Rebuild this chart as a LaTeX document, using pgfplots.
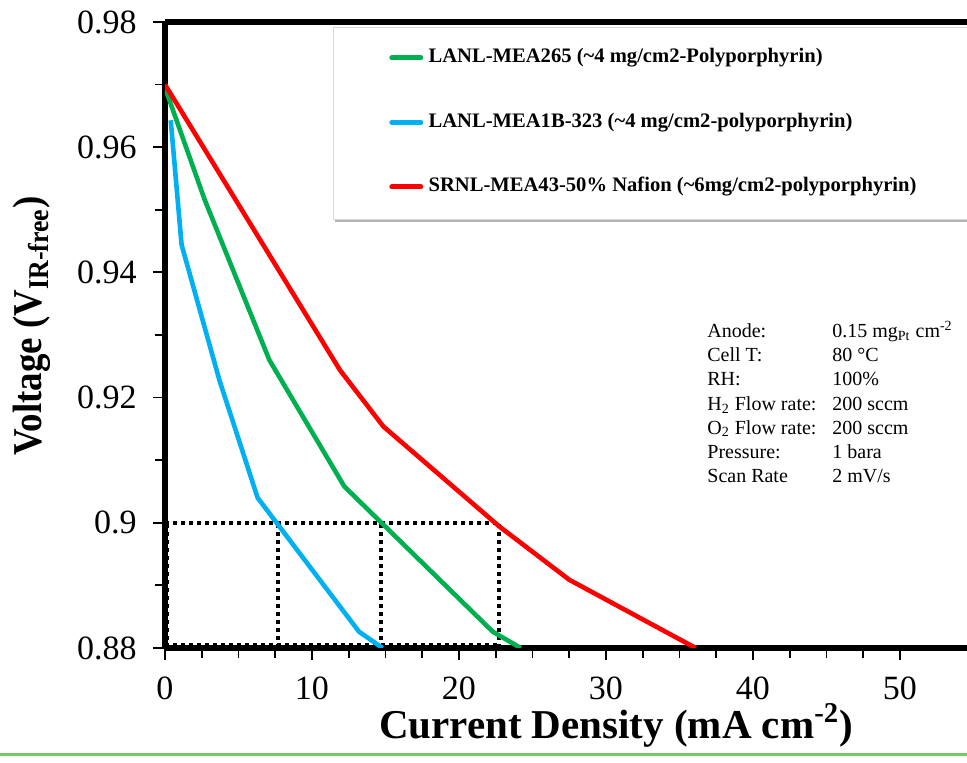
\documentclass[border=0pt]{standalone}
\usepackage{fontspec}
\setmainfont{Liberation Serif}
\usepackage{pgfplots}
\pgfplotsset{compat=1.18}
\usetikzlibrary{shadows}
\definecolor{cgreen}{RGB}{0,176,80}
\definecolor{cblue}{RGB}{0,176,240}
\definecolor{cred}{RGB}{255,0,0}
\definecolor{deco}{RGB}{120,200,100}
\begin{document}
\begin{tikzpicture}
\begin{axis}[
  scale only axis, width=401pt, height=313pt,
  xmin=0, xmax=54.56, ymin=0.88, ymax=0.98,
  axis x line*=box, axis y line*=left,
  axis line style={line width=3pt},
  x axis line style={line width=3pt},
  y axis line style={line width=3pt},
  every outer x axis line/.append style={line width=3pt},
  every outer y axis line/.append style={line width=3pt},
  xtick={0,10,20,30,40,50}, xticklabels={0,10,20,30,40,50}, minor x tick num=3,
  ytick={0.88,0.9,0.92,0.94,0.96,0.98}, yticklabels={0.88,0.9,0.92,0.94,0.96,0.98},
  minor y tick num=1,
  tick align=outside, xtick pos=left, ytick pos=left,
  major tick length=6pt, minor tick length=5pt,
  every tick/.style={black, line width=0.9pt},
  /pgf/number format/assume math mode=true,
  tick label style={font=\fontsize{17}{17}\selectfont},
  yticklabel style={anchor=east, inner sep=0pt, xshift=-8pt},
  xticklabel style={anchor=north, inner sep=0pt, yshift=-8pt},
  xlabel={Current Density (mA cm\textsuperscript{-2})},
  x label style={at={(rel axis cs:0.5623,-0.1438)}, anchor=base, inner sep=0pt, font=\bfseries\fontsize{20.5}{20.5}\selectfont},
  ylabel={\scalebox{0.9}[1]{Voltage (V\textsubscript{IR-free})}},
  y label style={at={(rel axis cs:-0.1534,0.5144)}, anchor=base, inner sep=0pt, font=\bfseries\fontsize{20.5}{20.5}\selectfont},
  legend style={at={(rel axis cs:0.2768,0.9585)}, anchor=north west, draw=none, fill=none,
    inner sep=0pt, outer sep=0pt, row sep=22.25pt,
    font=\bfseries\fontsize{10.3}{12}\selectfont,
    nodes={inner sep=0pt, text height=7.5pt, text depth=2.5pt}},
  legend cell align=left,
  legend image code/.code={\path (0pt,0pt) (18.5pt,0pt); \draw[#1, line width=2.5pt, line cap=round] (1.25pt,0pt) -- (15.75pt,0pt);},
]
\draw[draw=gray!30, fill=white, drop shadow={shadow xshift=1.2pt, shadow yshift=-1.6pt, fill=black, opacity=0.3}]
  (rel axis cs:0.2095,0.6853) rectangle (rel axis cs:1.05,0.992);

\addplot[black, line width=2pt, dash pattern=on 1.8pt off 2.2pt, forget plot] coordinates {(0,0.9) (22.75,0.9)};
\addplot[black, line width=1.3pt, dash pattern=on 1.8pt off 2.2pt, forget plot] coordinates {(0,0.8806) (22.75,0.8806)};
\addplot[black, line width=2pt, dash pattern=on 1.8pt off 2.2pt, forget plot] coordinates {(7.7,0.88) (7.7,0.9)};
\addplot[black, line width=2pt, dash pattern=on 1.8pt off 2.2pt, forget plot] coordinates {(14.7,0.88) (14.7,0.9)};
\addplot[black, line width=2pt, dash pattern=on 1.8pt off 2.2pt, forget plot] coordinates {(22.75,0.88) (22.75,0.9)};
\addplot[black, line width=1.3pt, dash pattern=on 1.8pt off 2.2pt, forget plot] coordinates {(0.2,0.88) (0.2,0.9)};

\addplot[cgreen, line width=2.3pt] coordinates {(0,0.9695) (2.7,0.9516) (7.1,0.926) (12.2,0.9058) (22.3,0.8826) (24.2,0.880)};
\addlegendentry{LANL-MEA265 (\textasciitilde4 mg/cm2-Polyporphyrin)}
\addplot[cblue, line width=2.3pt] coordinates {(0.39,0.9643) (1.13,0.9444) (3.7,0.9228) (6.3,0.904) (13.2,0.8826) (14.8,0.880)};
\addlegendentry{LANL-MEA1B-323 (\textasciitilde4 mg/cm2-polyporphyrin)}
\addplot[cred, line width=2.3pt] coordinates {(0,0.970) (11.9,0.9244) (14.85,0.9154) (22.75,0.8994) (27.5,0.8909) (36.1,0.880)};
\addlegendentry{SRNL-MEA43-50\% Nafion (\textasciitilde6mg/cm2-polyporphyrin)}

\node[anchor=base west, inner sep=0pt, font=\fontsize{10}{12}\selectfont] at (rel axis cs:0.6758,0.4952)
{\begin{tabular}[t]{@{}p{62.5pt}@{}l@{}}
Anode: & 0.15 mg\textsubscript{Pt} cm\textsuperscript{-2}\\
Cell T: & 80 °C\\
RH: & 100\%\\
H\textsubscript{2} Flow rate: & 200 sccm\\
O\textsubscript{2} Flow rate: & 200 sccm\\
Pressure: & 1 bara\\
Scan Rate & 2 mV/s
\end{tabular}};
\end{axis}
\draw[deco, line width=1.5pt] (-82.5pt,-53.5pt) -- (401pt,-53.5pt);
\pgfresetboundingbox
\path[use as bounding box] (-82.5pt,-57.5pt) rectangle (401pt,324pt);
\end{tikzpicture}
\end{document}
